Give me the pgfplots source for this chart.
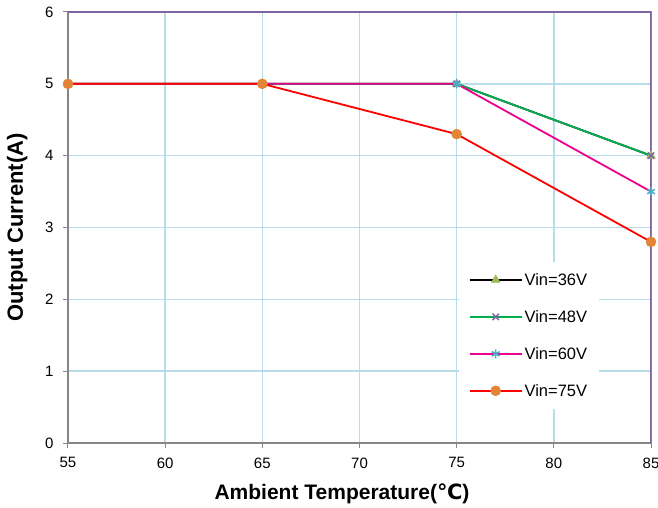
\documentclass[border=0pt]{standalone}
\usepackage{pgfplots}
\pgfplotsset{compat=1.18}
\usepackage{fontspec}
\setmainfont{Liberation Sans}
\newfontfamily\dejavu{DejaVu Sans}
\definecolor{gridc}{RGB}{183,222,232}
\definecolor{axgrey}{RGB}{134,134,134}
\definecolor{axpurp}{RGB}{128,100,162}
\definecolor{olive}{RGB}{155,187,89}
\definecolor{mpurp}{RGB}{128,100,162}
\definecolor{teal}{RGB}{75,172,198}
\definecolor{orng}{RGB}{228,132,54}
\definecolor{lgreen}{RGB}{0,176,80}
\begin{document}
\begin{tikzpicture}
\useasboundingbox (-68pt,-65pt) rectangle (590pt,443pt);
\begin{axis}[
  scale only axis, width=583pt, height=431pt,
  xmin=55, xmax=85, ymin=0, ymax=6,
  xtick={55,60,...,85}, ytick={0,1,...,6},
  grid=major, grid style={gridc, line width=1.4pt},
  axis line style={axgrey, line width=1.2pt},
  tick style={axgrey, line width=1pt},
  tick align=outside, major tick length=5pt,
  xtick pos=bottom, ytick pos=left,
  /pgf/number format/assume math mode=true,
  tick label style={font=\fontsize{15}{17}\selectfont},
  xticklabel style={yshift=-6pt},
  yticklabel style={xshift=-6pt},
  xlabel={\textbf{Ambient Temperature({\dejavu\bfseries ℃})}},
  ylabel={\textbf{Output Current(A)}},
  label style={font=\fontsize{21}{23}\selectfont},
  xlabel style={at={(axis description cs:0.47,-0.118)}, anchor=center},
  ylabel style={at={(axis description cs:-0.087,0.5)}, anchor=center, font=\fontsize{22}{24}\selectfont},
  legend style={at={(axis cs:75.1,2.52)}, anchor=north west, draw=none, fill=white,
    font=\fontsize{16.5}{18}\selectfont, row sep=19.5pt, inner xsep=10pt, inner ysep=9pt},
  legend cell align=left,
  legend image code/.code={\draw[mark repeat=2,mark phase=2] plot coordinates {(0pt,0pt) (26pt,0pt) (52pt,0pt)};},
]
\addplot[black, line width=1.8pt, mark=triangle*, mark size=5pt, mark options={olive, draw=olive, fill=olive, line width=0.5pt}]
  coordinates {(55,5) (65,5) (75,5) (85,4)};
\addlegendentry{Vin=36V}
\addplot[lgreen, line width=1.8pt, mark=x, mark size=4.5pt, mark options={mpurp, line width=1.5pt}]
  coordinates {(55,5) (65,5) (75,5) (85,4)};
\addlegendentry{Vin=48V}
\addplot[magenta, line width=1.8pt, mark=asterisk, mark size=4.5pt, mark options={teal, line width=1.5pt}]
  coordinates {(55,5) (65,5) (75,5) (85,3.5)};
\addlegendentry{Vin=60V}
\addplot[red, line width=1.8pt, mark=*, mark size=5pt, mark options={orng, draw=orng, fill=orng, line width=0.5pt}]
  coordinates {(55,5) (65,5) (75,4.3) (85,2.8)};
\addlegendentry{Vin=75V}
\draw[axpurp, line width=1.4pt] (rel axis cs:0,1) -- (rel axis cs:1,1) -- (rel axis cs:1,0);
\end{axis}
\end{tikzpicture}
\end{document}
